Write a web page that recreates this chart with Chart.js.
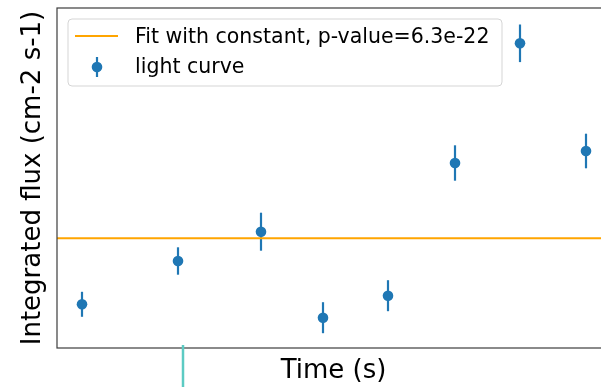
<!DOCTYPE html>
<html>
<head>
<meta charset="utf-8">
<script src="https://cdn.jsdelivr.net/npm/chart.js@4.4.1/dist/chart.umd.min.js"></script>
<style>
  html, body { margin: 0; padding: 0; overflow: hidden; background: #fff; }
  #wrap { width: 601px; height: 387px; overflow: hidden; }
</style>
</head>
<body>
<div id="wrap"><canvas id="c" width="610" height="387"></canvas></div>
<script>
// light curve points (arbitrary units)
const times = [25, 121, 204, 266, 331, 398, 463, 529];
const flux = [0.437, 0.87, 1.163, 0.303, 0.523, 1.85, 3.047, 1.97];
const fluxErr = [0.125, 0.137, 0.19, 0.155, 0.155, 0.177, 0.188, 0.173];
const fitValue = 1.097;
const markerTimes = [126];
const timeRange = [0, 553];
const fluxRange = [0, 3.4];

const FONT = "'DejaVu Sans', sans-serif";
const BLUE = "#1f77b4";
const ORANGE = "#ffa500";

// error bars under the points
const errorBars = {
  id: "errorBars",
  beforeDatasetsDraw(chart) {
    const { ctx, scales: { x, y } } = chart;
    ctx.save();
    ctx.strokeStyle = BLUE;
    ctx.lineWidth = 2.2;
    times.forEach((t, i) => {
      const px = x.getPixelForValue(t);
      ctx.beginPath();
      ctx.moveTo(px, y.getPixelForValue(flux[i] - fluxErr[i]));
      ctx.lineTo(px, y.getPixelForValue(flux[i] + fluxErr[i]));
      ctx.stroke();
    });
    ctx.restore();
  },
};

// frame, stray vertical marker and legend box
const extras = {
  id: "extras",
  afterDraw(chart) {
    const { ctx, chartArea: a, scales: { x } } = chart;
    ctx.save();
    ctx.strokeStyle = "#3c3c3c";
    ctx.lineWidth = 1.2;
    ctx.strokeRect(a.left, a.top, a.right - a.left, a.bottom - a.top);

    ctx.strokeStyle = "#5ccbc3";
    ctx.lineWidth = 2.5;
    markerTimes.forEach((t) => {
      const px = x.getPixelForValue(t);
      ctx.beginPath();
      ctx.moveTo(px, a.bottom - 3);
      ctx.lineTo(px, chart.height);
      ctx.stroke();
    });

    // legend
    const lx = a.left + 11, ly = a.top + 11, lw = 434, lh = 67;
    ctx.beginPath();
    ctx.roundRect(lx, ly, lw, lh, 4);
    ctx.fillStyle = "rgba(255,255,255,0.8)";
    ctx.fill();
    ctx.strokeStyle = "#d5d5d5";
    ctx.lineWidth = 1;
    ctx.stroke();

    ctx.strokeStyle = ORANGE;
    ctx.lineWidth = 2;
    ctx.beginPath();
    ctx.moveTo(lx + 7, ly + 17);
    ctx.lineTo(lx + 50, ly + 17);
    ctx.stroke();

    ctx.strokeStyle = BLUE;
    ctx.fillStyle = BLUE;
    ctx.lineWidth = 2.2;
    ctx.beginPath();
    ctx.moveTo(lx + 29, ly + 38);
    ctx.lineTo(lx + 29, ly + 58);
    ctx.stroke();
    ctx.beginPath();
    ctx.arc(lx + 29, ly + 48, 5.3, 0, Math.PI * 2);
    ctx.fill();

    ctx.fillStyle = "#000";
    ctx.font = "20.5px " + FONT;
    ctx.textBaseline = "alphabetic";
    ctx.fillText("Fit with constant, p-value=6.3e-22", lx + 67, ly + 24);
    ctx.fillText("light curve", lx + 67, ly + 54);
    ctx.restore();
  },
};

new Chart(document.getElementById("c"), {
  data: {
    datasets: [
      {
        type: "line",
        label: "Fit with constant, p-value=6.3e-22",
        data: timeRange.map((t) => ({ x: t, y: fitValue })),
        borderColor: ORANGE,
        borderWidth: 2,
        pointRadius: 0,
        order: 2,
      },
      {
        type: "scatter",
        label: "light curve",
        data: times.map((t, i) => ({ x: t, y: flux[i] })),
        backgroundColor: BLUE,
        borderColor: BLUE,
        pointRadius: 5.3,
        borderWidth: 0,
        order: 1,
      },
    ],
  },
  options: {
    responsive: false,
    animation: false,
    layout: { autoPadding: false, padding: { top: 8, left: 0, right: 0, bottom: 0 } },
    plugins: { legend: { display: false }, tooltip: { enabled: false } },
    scales: {
      x: {
        type: "linear",
        min: timeRange[0],
        max: timeRange[1],
        grid: { display: false },
        border: { display: false },
        ticks: { display: false },
        title: {
          display: true,
          text: "Time (s)",
          color: "#000",
          font: { family: FONT, size: 26 },
          padding: { top: 0, bottom: 0 },
        },
        afterFit: (s) => { s.height = 39; },
      },
      y: {
        min: fluxRange[0],
        max: fluxRange[1],
        grid: { display: false },
        border: { display: false },
        ticks: { display: false },
        title: {
          display: true,
          text: "Integrated flux (cm-2 s-1)",
          color: "#000",
          font: { family: FONT, size: 26 },
          padding: { top: 18, bottom: 0 },
        },
        afterFit: (s) => { s.width = 57; },
      },
    },
  },
  plugins: [errorBars, extras],
});
</script>
</body>
</html>
